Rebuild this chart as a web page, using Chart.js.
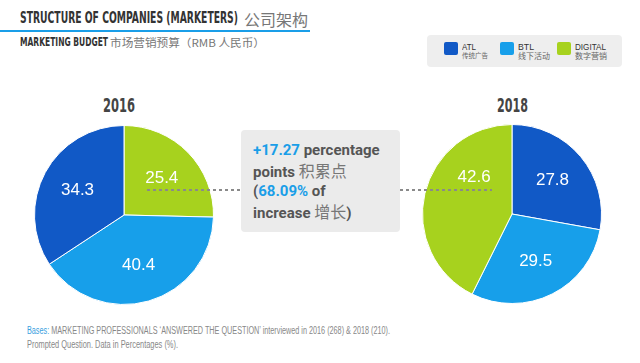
<!DOCTYPE html>
<html><head><meta charset="utf-8">
<script src="https://cdn.jsdelivr.net/npm/chart.js@4.4.1/dist/chart.umd.min.js"></script>
<style>
html,body{margin:0;padding:0;background:#fff;}
#stage{position:relative;width:640px;height:363px;overflow:hidden;background:#fff;}
.abs{position:absolute;white-space:nowrap;line-height:1;transform-origin:0 0;}
.cond{font-family:"DejaVu Sans Condensed","DejaVu Sans",sans-serif;font-weight:bold;}
.cjk{font-family:"Noto Sans CJK SC",sans-serif;}
.dots{position:absolute;height:2px;background:repeating-linear-gradient(to right,#8a8a8a 0 3px,transparent 3px 6px);}
#box{position:absolute;left:241px;top:130px;width:159px;height:102px;background:#ebebeb;border-radius:4px;}
#boxtext{position:absolute;left:253px;top:141px;font-family:Roboto,sans-serif;font-weight:bold;font-size:15px;line-height:19.7px;color:#555;white-space:nowrap;}
#boxtext .b{color:#1a9ee8;}
#boxtext .c{font-family:"Noto Sans CJK SC",sans-serif;font-weight:normal;font-size:16px;color:#777;}
#legend{position:absolute;left:427px;top:35px;width:195px;height:32px;background:#eeeeee;border-radius:4px;}
.sq{position:absolute;width:14px;height:13px;border-radius:2px;}
.pie{position:absolute;width:184px;height:184px;}
</style></head><body>
<div id="stage">
  <div class="abs cond" id="t1" style="left:20px;top:11px;font-size:15px;color:#333;" data-w="218">STRUCTURE OF COMPANIES (MARKETERS)</div>
  <div class="abs cjk" style="left:244px;top:11px;font-size:16px;color:#777;">公司架构</div>
  <div style="position:absolute;left:0;top:30px;width:310px;height:2px;background:#1a9ee8;"></div>
  <div class="abs cond" style="left:20px;top:36px;font-size:12.5px;color:#333;" data-w="88">MARKETING BUDGET</div>
  <div class="abs cjk" style="left:110px;top:37px;font-size:11px;color:#777;" data-w="155">市场营销预算（RMB 人民币）</div>

  <div id="legend"></div>

  <div class="abs cond" id="y0" style="top:95px;font-size:20px;color:#444;"></div>
  <div class="abs cond" id="y1" style="top:95px;font-size:20px;color:#444;"></div>

  <div class="pie" style="left:32px;top:123px;"><canvas id="c0" width="184" height="184"></canvas></div>
  <div class="pie" style="left:420px;top:122px;"><canvas id="c1" width="184" height="184"></canvas></div>

  <div class="dots" style="left:147px;top:189px;width:94px;"></div>
  <div class="dots" style="left:400px;top:189px;width:92px;"></div>

  <div id="box"></div>
  <div id="boxtext">
    <div><span class="b">+17.27</span> percentage</div>
    <div>points <span class="c">积累点</span></div>
    <div>(<span class="b">68.09%</span> of</div>
    <div>increase <span class="c">增长</span>)</div>
  </div>

  <div class="abs" style="left:27px;top:325.5px;font-family:'Liberation Sans',Arial,sans-serif;font-size:10px;color:#888;" data-w="363"><span style="color:#3aa0e0;">Bases:</span> MARKETING PROFESSIONALS ‘ANSWERED THE QUESTION’ interviewed in 2016 (268) &amp; 2018 (210).</div>
  <div class="abs" style="left:27px;top:339.5px;font-family:'Liberation Sans',Arial,sans-serif;font-size:10px;color:#888;" data-w="151">Prompted Question. Data in Percentages (%).</div>
</div>
<script>
const categories = ['ATL', 'BTL', 'DIGITAL'];
const categoriesCN = ['传统广告', '线下活动', '数字营销'];
const years = ['2016', '2018'];
const values2016 = [34.3, 40.4, 25.4];
const values2018 = [27.8, 29.5, 42.6];
const sliceOrder2016 = ['DIGITAL', 'BTL', 'ATL'];
const sliceOrder2018 = ['ATL', 'BTL', 'DIGITAL'];
const colors = { ATL: '#1159c6', BTL: '#179fea', DIGITAL: '#a7d21e' };

// legend
const legendX = [17, 73, 130];
const legendW = [14, 16, 31];
const legend = document.getElementById('legend');
categories.forEach((c, i) => {
  const sq = document.createElement('div');
  sq.className = 'sq';
  sq.style.left = legendX[i] + 'px'; sq.style.top = '7px'; sq.style.background = colors[c];
  legend.appendChild(sq);
  const t = document.createElement('div');
  t.className = 'abs';
  t.style.cssText = `left:${legendX[i] + 18}px;top:6.5px;font-family:'Liberation Sans',Arial,sans-serif;font-size:9.5px;color:#333;`;
  t.dataset.w = legendW[i];
  t.textContent = c;
  legend.appendChild(t);
  const s = document.createElement('div');
  s.className = 'abs cjk';
  s.style.cssText = `left:${legendX[i] + 18}px;top:16.5px;font-size:${i === 0 ? 6.5 : 8}px;color:#666;`;
  s.textContent = categoriesCN[i];
  legend.appendChild(s);
});

const sliceLabels = {
  id: 'sliceLabels',
  afterDatasetsDraw(chart, args, opts) {
    const ctx = chart.ctx;
    const meta = chart.getDatasetMeta(0);
    const ds = chart.data.datasets[0];
    const shift = opts.angleShift || {};
    ctx.save();
    ctx.fillStyle = '#fff';
    ctx.font = '17px "Liberation Sans", Arial, sans-serif';
    ctx.textAlign = 'center';
    ctx.textBaseline = 'middle';
    meta.data.forEach((arc, i) => {
      const p = arc.getProps(['x', 'y', 'startAngle', 'endAngle', 'outerRadius'], true);
      const a = (p.startAngle + p.endAngle) / 2 + (shift[i] || 0);
      const r = p.outerRadius * opts.radiusRatio;
      ctx.fillText(ds.data[i].toFixed(1), p.x + Math.cos(a) * r, p.y + Math.sin(a) * r);
    });
    ctx.restore();
  }
};

function makePie(id, values, order, labelShift) {
  const data = order.map(c => values[categories.indexOf(c)]);
  new Chart(document.getElementById(id), {
    type: 'pie',
    data: {
      labels: order,
      datasets: [{
        data,
        backgroundColor: order.map(c => colors[c]),
        borderColor: '#ffffff',
        borderWidth: 1,
        hoverOffset: 0
      }]
    },
    options: {
      responsive: false,
      animation: false,
      layout: { padding: 2 },
      events: [],
      plugins: {
        legend: { display: false },
        tooltip: { enabled: false },
        sliceLabels: { radiusRatio: 0.59, angleShift: labelShift }
      }
    },
    plugins: [sliceLabels]
  });
}
makePie('c0', values2016, sliceOrder2016, {});
makePie('c1', values2018, sliceOrder2018, { 2: 0.54 });

// year labels
const y0 = document.getElementById('y0'), y1 = document.getElementById('y1');
y0.textContent = years[0]; y1.textContent = years[1];
y0.dataset.w = 32; y1.dataset.w = 31;
y0.style.left = (119 - 16) + 'px';
y1.style.left = (512.5 - 15.5) + 'px';

document.querySelectorAll('[data-w]').forEach(el => {
  const w = el.getBoundingClientRect().width;
  el.style.transform = `scaleX(${el.dataset.w / w})`;
});
</script>
</body></html>
